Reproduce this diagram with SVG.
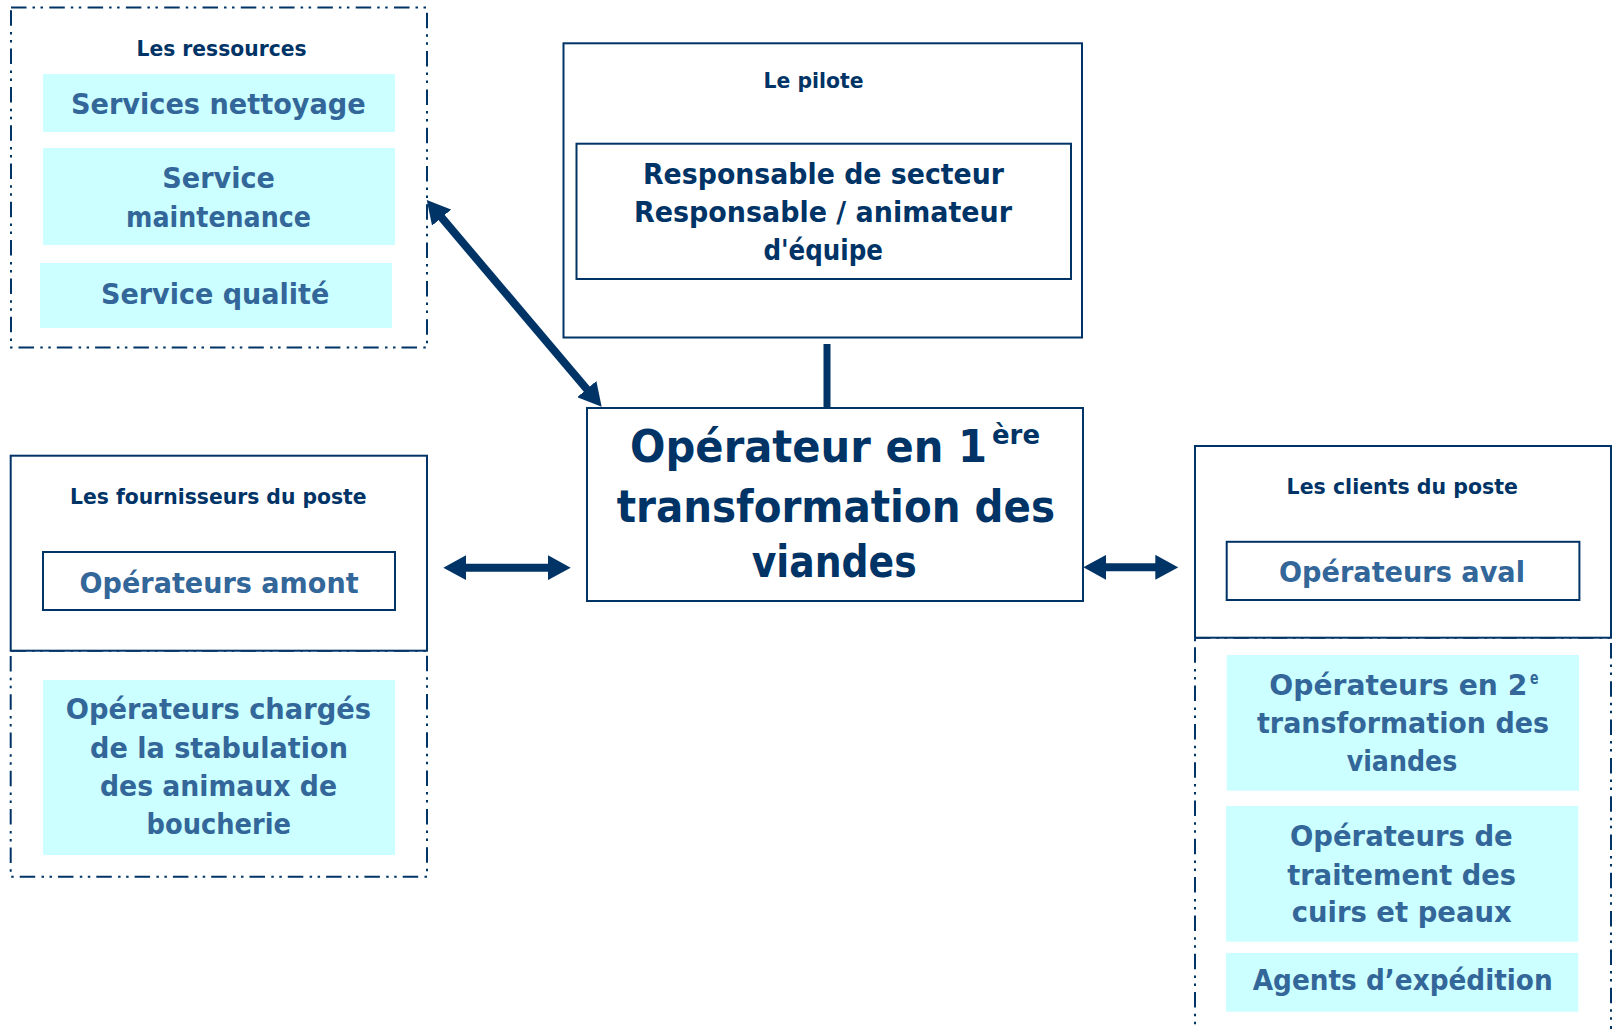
<svg xmlns="http://www.w3.org/2000/svg" width="1616" height="1029" viewBox="0 0 1616 1029">
<defs>
<style>
.t{font-family:"DejaVu Sans","Liberation Sans",sans-serif;font-weight:bold}
.title{font-size:22px;fill:#003366}
.cy{font-size:29px;fill:#336699}
.pil{font-size:29px;fill:#003366}
.big{font-size:45px;fill:#003366}
.solid{fill:#ffffff;stroke:#003366;stroke-width:2}
.inner{fill:none;stroke:#003366;stroke-width:2}
.dash{fill:none;stroke:#003366;stroke-width:2;stroke-dasharray:15.5 6 2.5 5.5 2.5 6.3}
.cyan{fill:#CCFFFF;stroke:none}
.arrow{stroke:#003366;stroke-width:8;fill:none;marker-start:url(#ah);marker-end:url(#ah)}
</style>
<marker id="ah" viewBox="0 0 23 25" refX="11" refY="12.5" markerWidth="23" markerHeight="25" markerUnits="userSpaceOnUse" orient="auto-start-reverse">
<path d="M0,0 L23,12.5 L0,25 z" fill="#003366"/>
</marker>
</defs>
<rect width="1616" height="1029" fill="#ffffff"/>

<g id="ressources">
<rect class="dash" x="11" y="7.5" width="416" height="340"/>
<text class="t title" x="136.5" y="56" textLength="170" lengthAdjust="spacingAndGlyphs">Les ressources</text>
<rect class="cyan" x="43" y="74" width="352" height="58"/>
<text class="t cy" x="71" y="114" textLength="294.7" lengthAdjust="spacingAndGlyphs">Services nettoyage</text>
<rect class="cyan" x="43" y="148" width="352" height="97"/>
<text class="t cy" x="162.3" y="188.3" textLength="112.7" lengthAdjust="spacingAndGlyphs">Service</text>
<text class="t cy" x="126" y="226.7" textLength="185" lengthAdjust="spacingAndGlyphs">maintenance</text>
<rect class="cyan" x="40" y="263" width="352" height="65"/>
<text class="t cy" x="101" y="304" textLength="228.3" lengthAdjust="spacingAndGlyphs">Service qualité</text>
</g>

<g id="pilote">
<rect class="solid" x="563.5" y="43.3" width="518.5" height="294.2"/>
<text class="t title" x="763.5" y="88" textLength="100" lengthAdjust="spacingAndGlyphs">Le pilote</text>
<rect class="inner" x="576.5" y="143.7" width="494.5" height="135.3"/>
<text class="t pil" x="643" y="184" textLength="361" lengthAdjust="spacingAndGlyphs">Responsable de secteur</text>
<text class="t pil" x="634" y="222" textLength="378" lengthAdjust="spacingAndGlyphs">Responsable / animateur</text>
<text class="t pil" x="763.5" y="260" textLength="119.5" lengthAdjust="spacingAndGlyphs">d'équipe</text>
</g>

<g id="operateur">
<rect class="solid" x="587" y="408" width="496" height="193"/>
<text class="t big" x="630" y="462"><tspan textLength="357" lengthAdjust="spacingAndGlyphs">Opérateur en 1</tspan><tspan x="992" y="444" style="font-size:26px" textLength="48" lengthAdjust="spacingAndGlyphs">ère</tspan></text>
<text class="t big" x="616.7" y="522" textLength="438.3" lengthAdjust="spacingAndGlyphs">transformation des</text>
<text class="t big" x="751.7" y="577" textLength="165" lengthAdjust="spacingAndGlyphs">viandes</text>
</g>

<g id="fournisseurs">
<rect class="dash" x="10.7" y="650.7" width="416.3" height="226"/>
<rect class="solid" x="10.7" y="455.7" width="416.3" height="195"/>
<text class="t title" x="70" y="504" textLength="296.6" lengthAdjust="spacingAndGlyphs">Les fournisseurs du poste</text>
<rect class="inner" x="43" y="552" width="352" height="58"/>
<text class="t cy" x="79.6" y="592.7" textLength="279" lengthAdjust="spacingAndGlyphs">Opérateurs amont</text>
<rect class="cyan" x="43" y="680" width="352" height="175"/>
<text class="t cy" x="65.8" y="719" textLength="305.2" lengthAdjust="spacingAndGlyphs">Opérateurs chargés</text>
<text class="t cy" x="90" y="757.7" textLength="258" lengthAdjust="spacingAndGlyphs">de la stabulation</text>
<text class="t cy" x="100" y="796" textLength="237" lengthAdjust="spacingAndGlyphs">des animaux de</text>
<text class="t cy" x="146.6" y="834" textLength="144.4" lengthAdjust="spacingAndGlyphs">boucherie</text>
</g>

<g id="clients">
<rect class="dash" x="1195" y="637.7" width="416" height="420"/>
<rect class="solid" x="1195" y="446" width="416" height="191.7"/>
<text class="t title" x="1286.6" y="494" textLength="231.4" lengthAdjust="spacingAndGlyphs">Les clients du poste</text>
<rect class="inner" x="1226.7" y="541.8" width="352.7" height="58.2"/>
<text class="t cy" x="1279" y="582" textLength="246" lengthAdjust="spacingAndGlyphs">Opérateurs aval</text>
<rect class="cyan" x="1226.7" y="655" width="352.3" height="135.7"/>
<text class="t cy" x="1269.3" y="695"><tspan textLength="258" lengthAdjust="spacingAndGlyphs">Opérateurs en 2</tspan><tspan x="1530" y="684" style="font-size:17px" textLength="8.5" lengthAdjust="spacingAndGlyphs">e</tspan></text>
<text class="t cy" x="1257" y="733" textLength="292" lengthAdjust="spacingAndGlyphs">transformation des</text>
<text class="t cy" x="1346.7" y="771" textLength="110.6" lengthAdjust="spacingAndGlyphs">viandes</text>
<rect class="cyan" x="1226" y="806" width="352.3" height="135.7"/>
<text class="t cy" x="1290" y="846" textLength="222.7" lengthAdjust="spacingAndGlyphs">Opérateurs de</text>
<text class="t cy" x="1287.3" y="885" textLength="228.7" lengthAdjust="spacingAndGlyphs">traitement des</text>
<text class="t cy" x="1291.7" y="922" textLength="220" lengthAdjust="spacingAndGlyphs">cuirs et peaux</text>
<rect class="cyan" x="1226" y="953" width="352.3" height="58.7"/>
<text class="t cy" x="1252.7" y="990" textLength="300" lengthAdjust="spacingAndGlyphs">Agents d’expédition</text>
</g>

<g id="connectors">
<line x1="827" y1="344" x2="827" y2="408" stroke="#003366" stroke-width="7"/>
<line class="arrow" x1="434.5" y1="209.2" x2="593.9" y2="397.5"/>
<line class="arrow" x1="455.3" y1="567.7" x2="558.7" y2="567.7"/>
<line class="arrow" x1="1095.3" y1="567.3" x2="1166.3" y2="567.3"/>
</g>
</svg>
